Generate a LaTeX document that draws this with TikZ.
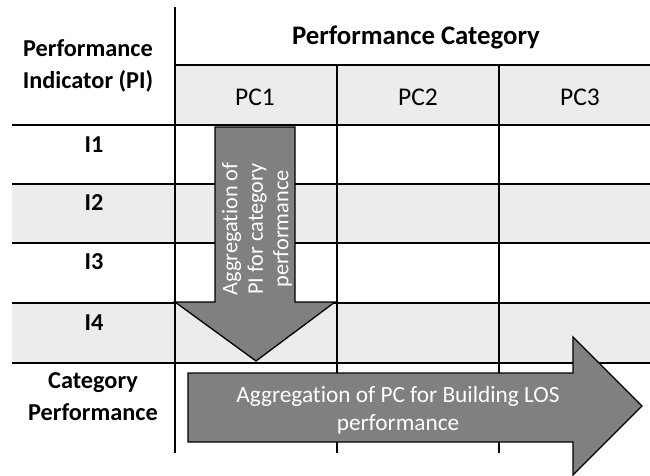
\documentclass[tikz,border=0pt]{standalone}
\usepackage{fontspec}
\setmainfont{Carlito}[Ligatures=NoCommon]
\begin{document}
\begin{tikzpicture}[x=1pt,y=-1pt,
  gridline/.style={line width=1.4pt, black},
  cellfill/.style={fill=gray!15},
  bigarrow/.style={fill=gray, draw=black, line width=1.3pt, line join=miter},
  hdr/.style={inner sep=0pt, font=\fontsize{26.8}{30}\selectfont\bfseries},
  lbl/.style={inner sep=0pt, font=\fontsize{24.3}{32}\selectfont\bfseries, align=center},
  pc/.style={inner sep=0pt, font=\fontsize{25.5}{30}\selectfont},
  arrtxt/.style={inner sep=0pt, text=white, align=center}]
\useasboundingbox (0,0) rectangle (650,476);
% fills
\fill[cellfill] (175,65) rectangle (650,125);
\fill[cellfill] (12,184) rectangle (650,243);
\fill[cellfill] (12,303) rectangle (650,363);
% grid
\draw[gridline] (175,7) -- (175,453);
\draw[gridline] (337,65) -- (337,453);
\draw[gridline] (499,65) -- (499,453);
\draw[gridline] (175,65) -- (650,65);
\foreach \yy in {125,184,243,303,363}
  \draw[gridline] (12,\yy) -- (650,\yy);
% down arrow
\draw[bigarrow] (215,127) -- (295,127) -- (295,302) -- (335,302) -- (256,361)
  -- (175,302) -- (215,302) -- cycle;
% right arrow
\draw[bigarrow] (188,373) -- (573,373) -- (573,337) -- (642,406) -- (573,475)
  -- (573,442) -- (188,442) -- cycle;
% texts
\node[lbl] (pi) at (88,66) {Performance\\Indicator (PI)};
\node[hdr, anchor=base] (pcat) at (416,45) {Performance Category};
\node[pc, anchor=base] (pc1) at (255,106) {PC1};
\node[pc, anchor=base] (pc2) at (418,106) {PC2};
\node[pc, anchor=base] (pc3) at (580,106) {PC3};
\node[lbl, anchor=base] (i1) at (94,152) {I1};
\node[lbl, anchor=base] (i2) at (94,210) {I2};
\node[lbl, anchor=base] (i3) at (94,269) {I3};
\node[lbl, anchor=base] (i4) at (94,330) {I4};
\node[lbl] (cp) at (93,397) {Category\\Performance};
\node[arrtxt, rotate=90, font=\fontsize{22.3}{25.5}\selectfont] (downtxt) at (257,229) {Aggregation of\\PI for category\\performance};
\node[arrtxt, font=\fontsize{23.3}{28}\selectfont] (righttxt) at (398,410) {Aggregation of PC for Building LOS\\performance};
\end{tikzpicture}
\end{document}
